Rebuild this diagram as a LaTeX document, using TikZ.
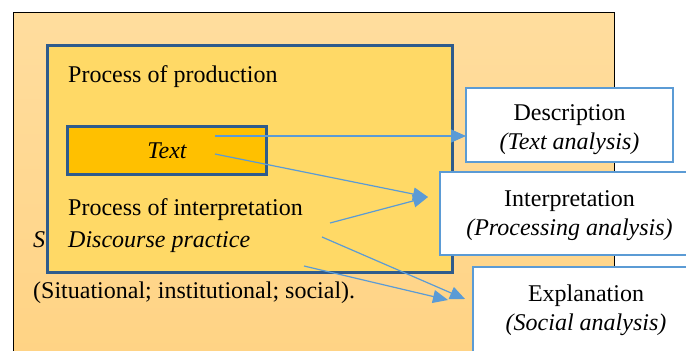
\documentclass[tikz,border=0pt]{standalone}
\usepackage{fontspec}
\setmainfont{Liberation Serif}
\usetikzlibrary{arrows.meta}
\definecolor{outerTop}{HTML}{FFDD9E}
\definecolor{outerBot}{HTML}{FFD384}
\definecolor{innerFill}{HTML}{FFD966}
\definecolor{textFill}{HTML}{FFC000}
\definecolor{darkBlue}{HTML}{2F5B8C}
\definecolor{lightBlue}{HTML}{5B9BD5}
\tikzset{
  lbl/.style={inner sep=0pt, anchor=base west, font=\fontsize{24}{29}\selectfont},
  resbox/.style={draw=lightBlue, line width=2.5pt, fill=white, inner sep=0pt},
  restext/.style={inner sep=0pt, align=center, font=\fontsize{24}{29}\selectfont},
  conn/.style={draw=lightBlue, line width=1.2pt, -{Triangle[length=15pt,width=13pt]}}
}
\begin{document}
\begin{tikzpicture}[x=1pt,y=-1pt]
\useasboundingbox (0,0) rectangle (686,351);
\clip (0,0) rectangle (686,351);
% outer box
\node (outer) [draw=black, line width=1pt, top color=outerTop, bottom color=outerBot, minimum width=601pt, minimum height=348pt, inner sep=0pt] at (313.5,186) {};
\node (s) [lbl] at (33,247) {\itshape S};
\node (sit) [lbl] at (33,298) {(Situational; institutional; social).};
% inner box
\node (inner) [draw=darkBlue, line width=3pt, fill=innerFill, minimum width=405pt, minimum height=227pt, inner sep=0pt] at (250,158.5) {};
\node (prod) [lbl] at (68,82) {Process of production};
\node (textbox) [draw=darkBlue, line width=3pt, fill=textFill, minimum width=199pt, minimum height=47.5pt, inner sep=0pt, font=\fontsize{24}{29}\selectfont\itshape] at (167,150.5) {Text};
\node (interp) [lbl] at (68,215) {Process of interpretation};
\node (disc) [lbl] at (68,247) {\itshape Discourse practice};
% result boxes
\node (desc) [resbox, minimum width=207pt, minimum height=74pt] at (569.5,125) {};
\node (descT) [restext] at (569.5,129.5) {Description\\\itshape (Text analysis)};
\node (interpbox) [resbox, minimum width=258pt, minimum height=83pt] at (569,213.5) {};
\node (interpT) [restext] at (569.5,216) {Interpretation\\\itshape (Processing analysis)};
\node (expl) [resbox, minimum width=225pt, minimum height=100pt] at (585.5,317) {};
\node (explT) [restext] at (586,310.5) {Explanation\\\itshape (Social analysis)};
% connector end points
\coordinate (a1s) at (215,136);
\coordinate (a1e) at (466,136);
\coordinate (a2s) at (215,154);
\coordinate (a3s) at (330,223);
\coordinate (a23e) at (428,197);
\coordinate (a4s) at (322,237);
\coordinate (a4e) at (465,299);
\coordinate (a5s) at (304,266);
\coordinate (a5e) at (448,300);
\draw[conn] (a1s) -- (a1e);
\draw[conn] (a2s) -- (a23e);
\draw[conn] (a3s) -- (a23e);
\draw[conn] (a4s) -- (a4e);
\draw[conn] (a5s) -- (a5e);
\end{tikzpicture}
\end{document}
